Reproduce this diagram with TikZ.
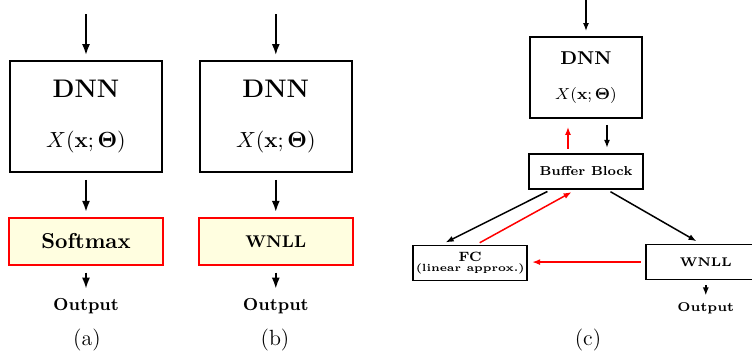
\documentclass[tikz,border=0pt]{standalone}
\usepackage{amsmath}
\usetikzlibrary{arrows.meta, positioning}

\definecolor{lossfill}{RGB}{255,254,224}

\newcommand{\fsz}[1]{\fontsize{#1}{1.2\dimexpr#1pt\relax}\selectfont}
\newcommand{\dnnlabel}[3]{{\fsz{#1}\bfseries DNN}\\[#3]{\fsz{#2}$X(\mathbf{x};\mathbf{\Theta})$}}

\begin{document}
\begin{tikzpicture}[x=0.5pt, y=-0.5pt, node distance=22pt, >={Latex[length=4pt, width=3pt]},
    netbox/.style={rectangle, draw, line width=0.9pt, align=center, inner sep=0pt},
    lossbox/.style={rectangle, draw=red, fill=lossfill, line width=0.9pt, inner sep=0pt},
    flow/.style={->, line width=0.75pt, shorten <=3.5pt, shorten >=2.5pt},
    bigflow/.style={flow, line width=0.9pt, >={Latex[length=5.5pt, width=4pt]}},
    back/.style={flow, red}]
    \useasboundingbox (0,0) rectangle (752,351);

    % (a) softmax
    \node [netbox, minimum width=76pt, minimum height=55.5pt] (dnna) at (86,116.5) {\dnnlabel{12.7}{11}{13pt}};
    \node [lossbox, minimum width=77pt, minimum height=23.5pt, below=22pt of dnna] (softa) {\fsz{10.8}\bfseries Softmax};
    \node [inner sep=2pt, below=14pt of softa] (outa) {\fsz{8.7}\bfseries Output};
    \coordinate [above=26.5pt of dnna] (ina);

    \draw [bigflow] (ina) -- (dnna);
    \draw [bigflow] (dnna) -- (softa);
    \draw [bigflow] (softa) -- (outa);

    % (b) wnll
    \node [netbox, minimum width=76pt, minimum height=55.5pt, right=18pt of dnna] (dnnb) {\dnnlabel{12.7}{11}{13pt}};
    \node [lossbox, minimum width=77pt, minimum height=23.5pt, below=22pt of dnnb] (wnllb) {\fsz{8.5}\bfseries WNLL};
    \node [inner sep=2pt, below=14pt of wnllb] (outb) {\fsz{8.7}\bfseries Output};
    \coordinate [above=26.5pt of dnnb] (inb);

    \draw [bigflow] (inb) -- (dnnb);
    \draw [bigflow] (dnnb) -- (wnllb);
    \draw [bigflow] (wnllb) -- (outb);

    % (c) buffer block
    \node [netbox, minimum width=56pt, minimum height=40.5pt] (dnnc) at (586,77.5) {\dnnlabel{9.3}{8}{5.5pt}};
    \node [netbox, minimum width=57pt, minimum height=17.5pt, below=17pt of dnnc] (buf) {\fsz{6.5}\bfseries Buffer Block};
    \node [netbox, minimum width=57pt, minimum height=17.5pt, below left=27.5pt and 0pt of buf] (fc)
        {{\fsz{6.75}\bfseries FC}\\[-7pt]{\fsz{5.2}\bfseries (linear approx.)}};
    \node [netbox, minimum width=60pt, minimum height=17.5pt, below right=27pt and 0.5pt of buf] (wnllc) {\fsz{6.3}\bfseries WNLL};
    \node [inner sep=2pt, below=9pt of wnllc] (outc) {\fsz{6.4}\bfseries Output};
    \coordinate [above=22pt of dnnc] (inc);

    \draw [flow] (inc) -- (dnnc);
    \draw [flow, shorten <=3pt] ([xshift=10.5pt]dnnc.south) -- ([xshift=10.5pt]buf.north);
    \draw [back, shorten <=2pt, shorten >=4pt] ([xshift=-9pt]buf.north) -- ([xshift=-9pt]dnnc.south);
    \draw [flow, shorten <=2pt] ([xshift=-17.5pt]buf.south) -- ([xshift=-14.5pt]fc.north);
    \draw [back, shorten <=2pt, shorten >=2.5pt] ([xshift=3pt]fc.north) -- ([xshift=-5pt]buf.south);
    \draw [flow, shorten <=2pt] ([xshift=10.5pt]buf.south) -- ([xshift=-2.5pt]wnllc.north);
    \draw [back, shorten <=2pt, shorten >=2pt] (wnllc.west) -- (wnllc.west -| fc.east);
    \draw [flow, shorten <=2.5pt, shorten >=1.5pt] (wnllc) -- (outc);

    % captions
    \node (capa) at (87,340) {\fsz{11}(a)};
    \node (capb) at (275,340) {\fsz{11}(b)};
    \node (capc) at (588,340) {\fsz{11}(c)};
\end{tikzpicture}
\end{document}
